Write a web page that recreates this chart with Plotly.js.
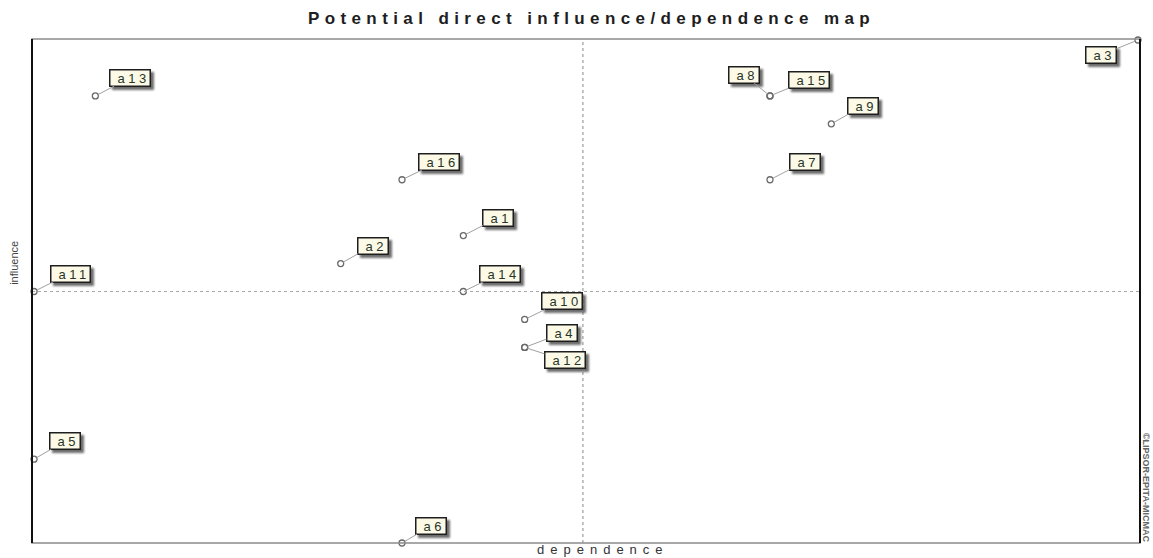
<!DOCTYPE html>
<html>
<head>
<meta charset="utf-8">
<script src="https://cdn.plot.ly/plotly-3.0.1.min.js"></script>
<style>
html, body { margin: 0; padding: 0; background: #ffffff; }
#chart { width: 1153px; height: 558px; }
.annotation-text-g rect.bg { filter: drop-shadow(3px 3px 1px rgba(60,60,60,0.75)); }
.annotation-arrow-g path { stroke-dasharray: 2 1.5; }
</style>
</head>
<body>
<div id="chart"></div>
<script>
// ---- data ----
const labels     = ['a1','a2','a3','a4','a5','a6','a7','a8','a9','a10','a11','a12','a13','a14','a15','a16'];
const dependence = [13, 11, 24, 14, 6, 12, 18, 18, 19, 14, 6, 14, 7, 13, 18, 12];
const influence  = [16, 15, 23, 12, 8, 5, 18, 21, 20, 13, 14, 12, 21, 14, 21, 18];
const titleText  = 'Potential direct influence/dependence map';
const xLabel     = 'dependence';
const yLabel     = 'influence';
const credit     = '\u00A9LIPSOR-EPITA-MICMAC';

// ---- label placement (pixel offsets of label boxes from their points) ----
const labelOffset = {
  a1: [35, -18], a2: [32, -18], a3: [-37, 15], a4: [37, -14],
  a5: [31, -18], a6: [29, -17], a7: [35, -18], a8: [-26, -21],
  a9: [32, -18], a10: [37, -18], a11: [36, -18], a12: [40, 13],
  a13: [35, -18], a14: [37, -18], a15: [39, -16], a16: [37, -18]
};

const labelFont = { family: 'Liberation Sans, Arial, sans-serif', size: 13, color: '#26342a' };
const boxText = s => '<span style="letter-spacing:3.5px">\u00A0' + s + '</span>';

const boxes = labels.map((s, i) => {
  const o = labelOffset[s];
  return {
    x: dependence[i], y: influence[i], xref: 'x', yref: 'y',
    text: boxText(s), showarrow: true,
    ax: o[0], ay: o[1], arrowhead: 0, arrowwidth: 1, arrowcolor: '#a0a0a0',
    standoff: 3,
    font: labelFont,
    bgcolor: '#fcfae6', bordercolor: '#1e1e1e', borderwidth: 1.5, borderpad: 0
  };
});

const extraText = [
  {
    xref: 'paper', yref: 'paper', x: 0.515, y: -0.013, xanchor: 'center', yanchor: 'middle', showarrow: false,
    text: '<span style="letter-spacing:6px">' + xLabel + '</span>',
    font: { family: 'Liberation Sans, Arial, sans-serif', size: 13, color: '#333' }
  },
  {
    xref: 'paper', yref: 'paper', x: -0.0162, y: 0.556, xanchor: 'center', yanchor: 'middle', showarrow: false, textangle: -90,
    text: yLabel,
    font: { family: 'Liberation Sans, Arial, sans-serif', size: 11, color: '#444' }
  },
  {
    xref: 'paper', yref: 'paper', x: 1.0055, y: 0.111, xanchor: 'center', yanchor: 'middle', showarrow: false, textangle: 90,
    text: '<b>' + credit + '</b>',
    font: { family: 'Liberation Sans, Arial, sans-serif', size: 9, color: '#666' }
  }
];

const trace = {
  type: 'scatter', mode: 'markers',
  x: dependence, y: influence, text: labels,
  hoverinfo: 'text',
  cliponaxis: false,
  marker: { symbol: 'circle-open', size: 6, color: '#6a6a6a', line: { width: 1.3, color: '#6a6a6a' } },
  showlegend: false
};

const layout = {
  width: 1153, height: 558,
  margin: { l: 32, r: 13, t: 39, b: 15 },
  paper_bgcolor: '#ffffff', plot_bgcolor: '#ffffff',
  title: {
    text: '<b><span style="letter-spacing:5.4px">' + titleText + '</span></b>',
    x: 0.513, xanchor: 'center', y: 0.968, yanchor: 'middle', yref: 'container',
    font: { family: 'Liberation Sans, Arial, sans-serif', size: 17, color: '#1e1e1e' }
  },
  xaxis: { range: [5.967, 24.033], showgrid: false, zeroline: false, showticklabels: false, ticks: '', showline: false, fixedrange: true },
  yaxis: { range: [5, 23.036], showgrid: false, zeroline: false, showticklabels: false, ticks: '', showline: false, fixedrange: true },
  shapes: [
    { type: 'line', xref: 'x', yref: 'paper', x0: 14.95, x1: 14.95, y0: 0, y1: 1, line: { color: '#8a8a8a', width: 1, dash: 'dot' } },
    { type: 'line', xref: 'paper', yref: 'y', x0: 0, x1: 1, y0: 14, y1: 14, line: { color: '#a8a8a8', width: 1, dash: '3px,3px' } },
    { type: 'rect', xref: 'paper', yref: 'paper', x0: 0, x1: 1, y0: 0, y1: 1, line: { color: '#8c8c8c', width: 1.5 } },
    { type: 'line', xref: 'paper', yref: 'paper', x0: 0, x1: 0, y0: 0, y1: 1, line: { color: '#111', width: 2 } },
    { type: 'line', xref: 'paper', yref: 'paper', x0: 1, x1: 1, y0: 0, y1: 1, line: { color: '#111', width: 2 } }
  ],
  annotations: boxes.concat(extraText),
  showlegend: false
};

Plotly.newPlot('chart', [trace], layout, { displayModeBar: false, staticPlot: true });
</script>
</body>
</html>
